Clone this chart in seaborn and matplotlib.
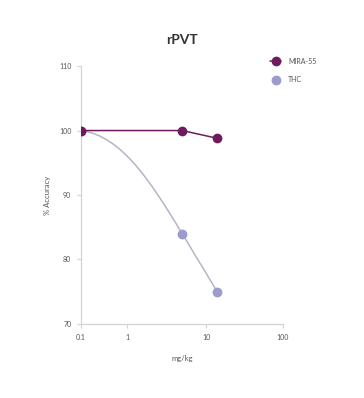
import numpy as np
import pandas as pd
import seaborn as sns
import matplotlib.pyplot as plt
from matplotlib.path import Path
from matplotlib.patches import PathPatch
from matplotlib.ticker import FixedLocator, FixedFormatter, NullLocator

# data
doses = [0.1, 5, 14]
mira = [100, 100, 98.8]
thc = [100, 84, 75]
xticks = [0.1, 1, 10, 100]
xticklabels = ["0.1", "1", "10", "100"]
yticks = [70, 80, 90, 100, 110]

mira_col = "#6e1b5e"
thc_col = "#9d9bcc"
thc_line = "#b7b4c4"

# the reference's log axis has uneven decades
decades = [-1, 0, 1, 2]
decade_pos = [0, 46, 125, 202]


def fwd(x):
    x = np.asarray(x, dtype=float)
    return np.interp(np.log10(np.clip(x, 1e-6, None)), decades, decade_pos,
                     left=None, right=None)


def inv(v):
    return 10 ** np.interp(np.asarray(v, dtype=float), decade_pos, decades)


sns.set_style("white")
plt.rcParams["font.family"] = ["Lato", "DejaVu Sans"]

fig = plt.figure(figsize=(3.64, 3.98), dpi=100)
ax = fig.add_axes([0.2225, 0.186, 0.555, 0.648])

df = pd.DataFrame({"dose": doses, "MIRA-55": mira, "THC": thc})

ax.set_xscale("function", functions=(fwd, inv))
ax.set_xlim(0.1, 100)
ax.set_ylim(70, 110)

# THC smoothed line (bezier built from the data points in scaled x space)
lx = fwd(df["dose"].values)
ty = df["THC"].values
c1 = (lx[0] + 0.4 * (lx[1] - lx[0]), ty[0] - 0.05 * (ty[0] - ty[1]))
c2 = (lx[1] - 0.9 * (lx[2] - lx[1]), ty[1] - 0.9 * (ty[2] - ty[1]))
verts = [(lx[0], ty[0]), c1, c2, (lx[1], ty[1]), (lx[2], ty[2])]
verts = [(float(inv(vx)), vy) for vx, vy in verts]
codes = [Path.MOVETO, Path.CURVE4, Path.CURVE4, Path.CURVE4, Path.LINETO]
ax.add_patch(PathPatch(Path(verts, codes), fill=False, edgecolor=thc_line, lw=1.1, zorder=2))

sns.lineplot(data=df, x="dose", y="MIRA-55", ax=ax, color=mira_col, lw=1.1,
             marker="o", markersize=7, markeredgewidth=0, label="MIRA-55", zorder=4)
sns.scatterplot(data=df, x="dose", y="THC", ax=ax, color=thc_col, s=50,
                linewidth=0, label="THC", zorder=3)

ax.set_xlim(0.1, 100)
ax.set_ylim(70, 110)
ax.xaxis.set_major_locator(FixedLocator(xticks))
ax.xaxis.set_major_formatter(FixedFormatter(xticklabels))
ax.xaxis.set_minor_locator(NullLocator())
ax.set_yticks(yticks)

for s in ["top", "right"]:
    ax.spines[s].set_visible(False)
for s in ["left", "bottom"]:
    ax.spines[s].set_color("#d4d4d4")
    ax.spines[s].set_linewidth(0.9)
ax.tick_params(axis="both", direction="out", length=3, width=0.8, color="#d4d4d4",
               labelsize=5, labelcolor="#555555", pad=4)
ax.tick_params(axis="x", bottom=True)
ax.tick_params(axis="y", left=True)

ax.set_xlabel("mg/kg", fontsize=5.5, color="#555555", labelpad=10)
ax.set_ylabel("% Accuracy", fontsize=5.5, color="#555555", labelpad=6)
fig.text(0.5, 0.9, "rPVT", ha="center", va="center", fontsize=10,
         fontweight="bold", color="#333333")

ax.legend(loc="upper left", bbox_to_anchor=(0.733, 0.864), bbox_transform=fig.transFigure,
          frameon=False, fontsize=5, labelcolor="#555555", handlelength=1.6,
          handletextpad=1.0, labelspacing=1.6, borderpad=0)

fig.savefig("out.png", dpi=100)
